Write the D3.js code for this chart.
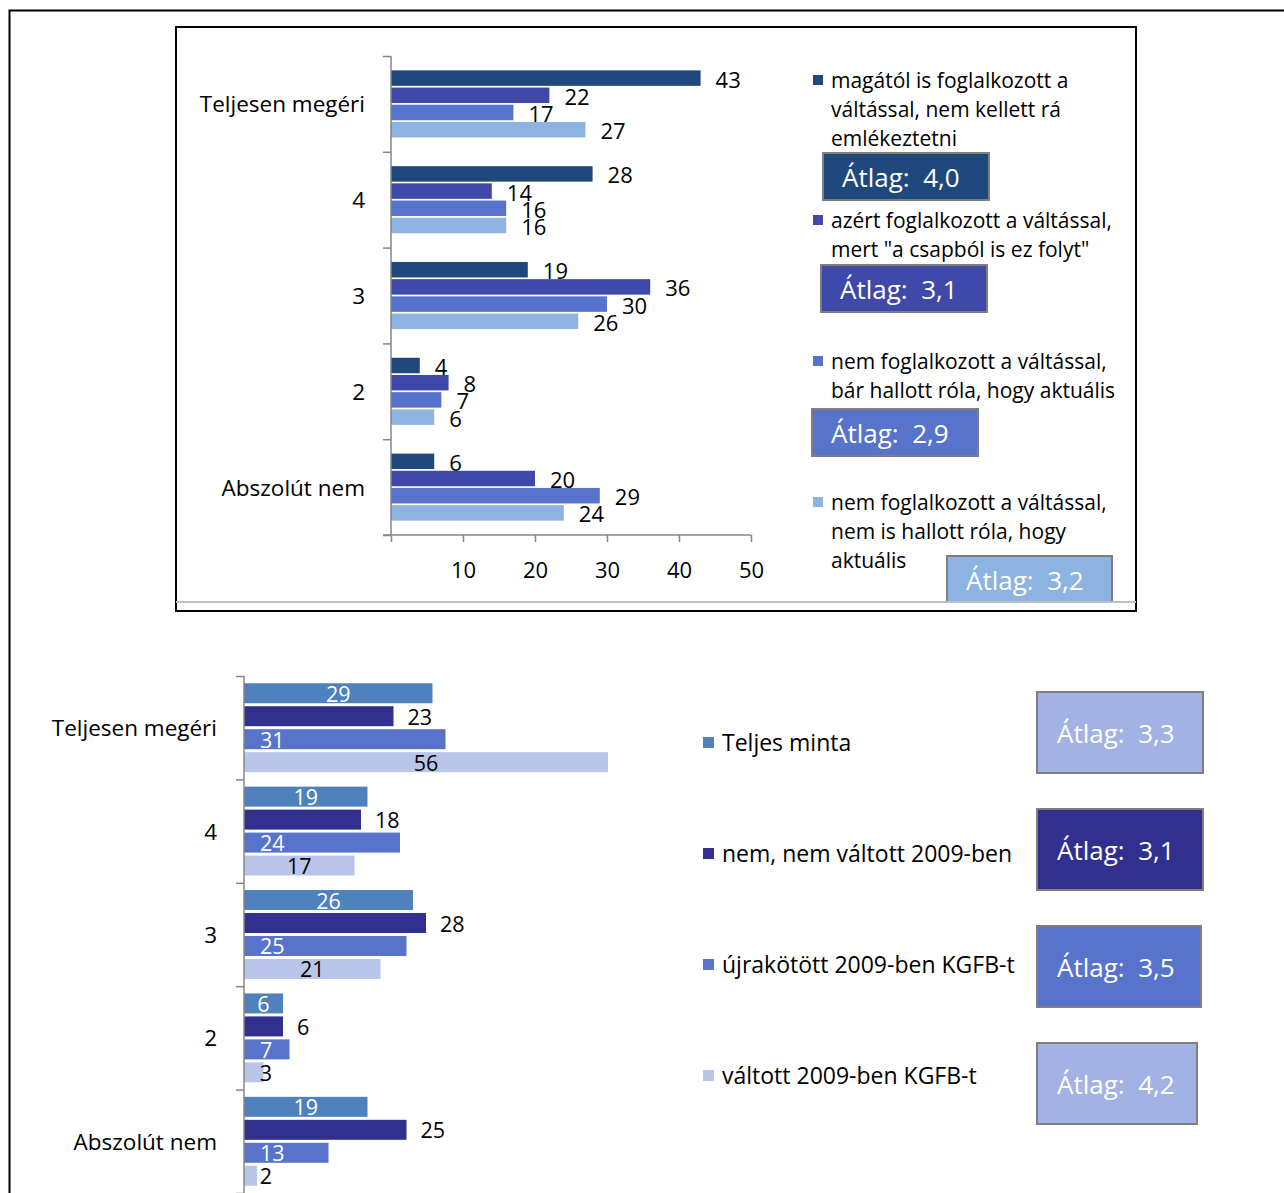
<!DOCTYPE html>
<html><head><meta charset="utf-8">
<script src="https://cdn.jsdelivr.net/npm/d3@7"></script>
<style>body{margin:0;background:#fff}svg{display:block;font-family:"Open Sans","Noto Sans",sans-serif}</style>
</head><body>
<svg id="c" width="1284" height="1193"></svg>
<script>
const categories = ["Teljesen megéri","4","3","2","Abszolút nem"];
const topSeries = ["magától is foglalkozott a váltással, nem kellett rá emlékeztetni","azért foglalkozott a váltással, mert \"a csapból is ez folyt\"","nem foglalkozott a váltással, bár hallott róla, hogy aktuális","nem foglalkozott a váltással, nem is hallott róla, hogy aktuális"];
const topLegendLines = [["magától is foglalkozott a","váltással, nem kellett rá","emlékeztetni"],["azért foglalkozott a váltással,","mert \"a csapból is ez folyt\""],["nem foglalkozott a váltással,","bár hallott róla, hogy aktuális"],["nem foglalkozott a váltással,","nem is hallott róla, hogy","aktuális"]];
const topValues = [[43,28,19,4,6],[22,14,36,8,20],[17,16,30,7,29],[27,16,26,6,24]];
const topMeans = ["4,0","3,1","2,9","3,2"];
const topTicks = [0,10,20,30,40,50];
const bottomSeries = ["Teljes minta","nem, nem váltott 2009-ben","újrakötött 2009-ben KGFB-t","váltott 2009-ben KGFB-t"];
const bottomValues = [[29,19,26,6,19],[23,18,28,6,25],[31,24,25,7,13],[56,17,21,3,2]];
const bottomMeans = ["3,3","3,1","3,5","4,2"];

const topColors = ["#1F497D","#3F49A9","#5773CC","#8DB3E2"];
const topBoxColors = ["#1F497D","#3F49A9","#5773CC","#8DB3E2"];
const botColors = ["#4F81BD","#31308F","#5773CC","#B9C6EA"];
const botBoxColors = ["#A2B2E4","#31308F","#5773CC","#A2B2E4"];
const FONT = "'Open Sans', 'Noto Sans', sans-serif";

const svg = d3.select("#c");
svg.append("rect").attr("x",9.5).attr("y",10.5).attr("width",1300).attr("height",1300).attr("fill","none").attr("stroke","#000").attr("stroke-width",2);
svg.append("rect").attr("x",176).attr("y",27).attr("width",960).attr("height",584).attr("fill","#fff").attr("stroke","#000").attr("stroke-width",2);

// ---------- TOP CHART ----------
const gT = svg.append("g");
const xT = d3.scaleLinear().domain([0,50]).range([391,751]);
const yT = d3.scaleBand().domain(categories).range([56,535]).paddingInner(0.3).paddingOuter(0.15);
const sT = d3.scaleBand().domain(d3.range(4)).range([0,yT.bandwidth()]).padding(0.1).paddingOuter(0);
const idxT = d3.scaleLinear().domain([0,5]).range([56,535]);

topValues.forEach((vals,si)=>{
  const g = gT.append("g");
  g.selectAll("rect").data(vals).join("rect")
    .attr("x",xT(0)).attr("y",(d,i)=>yT(categories[i])+sT(si))
    .attr("width",d=>xT(d)-xT(0)).attr("height",sT.bandwidth())
    .attr("fill",topColors[si]);
  g.selectAll("text").data(vals).join("text")
    .attr("x",d=>xT(d)+15).attr("y",(d,i)=>yT(categories[i])+sT(si)+sT.bandwidth()/2+0.5)
    .attr("dominant-baseline","central").attr("font-size",22).attr("fill","#000").text(d=>d);
});
const yAxT = gT.append("g").attr("transform","translate(391,0)")
  .call(d3.axisLeft(idxT).tickValues(d3.range(6)).tickSize(8).tickFormat(""));
yAxT.selectAll("line,path").attr("stroke","#868686").attr("stroke-width",1.5);
yAxT.select("path").attr("d","M0,56V535");
gT.selectAll(".catT").data(categories).join("text").attr("class","catT")
  .attr("x",365).attr("y",d=>yT(d)+yT.bandwidth()/2).attr("text-anchor","end")
  .attr("dominant-baseline","central").attr("font-size",22.5).text(d=>d);
const xAxT = gT.append("g").attr("transform","translate(0,535)")
  .call(d3.axisBottom(xT).tickValues(topTicks).tickSize(7).tickPadding(20).tickFormat(d=>d===0?"":d));
xAxT.selectAll("line,path").attr("stroke","#868686").attr("stroke-width",1.5);
xAxT.select("path").attr("d","M383,0H751");
xAxT.selectAll("text").attr("font-size",22).attr("fill","#000").attr("font-family",FONT);

const legTop = [{my:80,bx:823,by:153,bw:166},{my:220,bx:821,by:265,bw:166},{my:361,bx:812,by:409,bw:166},{my:502,bx:947,by:556,bw:165}];
legTop.forEach((p,i)=>{
  gT.append("rect").attr("x",813).attr("y",p.my-5).attr("width",10).attr("height",10).attr("fill",topColors[i]);
  const t = gT.append("text").attr("font-size",21).attr("fill","#000");
  topLegendLines[i].forEach((ln,j)=>t.append("tspan").attr("x",831).attr("y",p.my+j*29).attr("dominant-baseline","central").text(ln));
  const bh = i===3 ? 46 : 47;
  gT.append("rect").attr("x",p.bx).attr("y",p.by).attr("width",p.bw).attr("height",bh)
    .attr("fill",topBoxColors[i]).attr("stroke","#7F7F7F").attr("stroke-width",2);
  gT.append("text").attr("x",p.bx+19).attr("y",p.by+24).attr("dominant-baseline","central")
    .attr("font-size",26).attr("fill","#fff").style("white-space","pre").text("Átlag:  "+topMeans[i]);
});
gT.append("line").attr("x1",176).attr("x2",1136).attr("y1",602).attr("y2",602).attr("stroke","#BFBFBF").attr("stroke-width",2);

// ---------- BOTTOM CHART ----------
const gB = svg.append("g");
const xB = d3.scaleLinear().domain([0,56]).range([244,608]);
const yB = d3.scaleBand().domain(categories).range([676,1193]).paddingInner(0.14).paddingOuter(0.07);
const sB = d3.scaleBand().domain(d3.range(4)).range([0,yB.bandwidth()]).padding(0.13).paddingOuter(0);
const idxB = d3.scaleLinear().domain([0,5]).range([676,1193]);

bottomValues.forEach((vals,si)=>{
  const g = gB.append("g");
  g.selectAll("rect").data(vals).join("rect")
    .attr("x",xB(0)).attr("y",(d,i)=>yB(categories[i])+sB(si))
    .attr("width",d=>xB(d)-xB(0)).attr("height",sB.bandwidth())
    .attr("fill",botColors[si]);
  const lx = d => {
    if(si===0) return (xB(0)+xB(d))/2;
    if(si===1) return xB(d)+14;
    if(si===2) return xB(0)+16;
    return Math.max((xB(0)+xB(d))/2, 266);
  };
  g.selectAll("text").data(vals).join("text")
    .attr("x",lx).attr("y",(d,i)=>yB(categories[i])+sB(si)+sB.bandwidth()/2)
    .attr("text-anchor", si===0||si===3 ? "middle" : "start")
    .attr("dominant-baseline","central").attr("font-size",21.5)
    .attr("fill", si===0||si===2 ? "#fff" : "#000").text(d=>d);
});
const yAxB = gB.append("g").attr("transform","translate(244,0)")
  .call(d3.axisLeft(idxB).tickValues(d3.range(6)).tickSize(8).tickFormat(""));
yAxB.selectAll("line,path").attr("stroke","#868686").attr("stroke-width",1.5);
yAxB.select("path").attr("d","M0,676V1193");
gB.selectAll(".catB").data(categories).join("text").attr("class","catB")
  .attr("x",217).attr("y",d=>yB(d)+yB.bandwidth()/2).attr("text-anchor","end")
  .attr("dominant-baseline","central").attr("font-size",22.5).text(d=>d);

const legBot = [{my:742,by:692,bw:166},{my:853,by:809,bw:166},{my:964,by:926,bw:164},{my:1075,by:1043,bw:160}];
legBot.forEach((p,i)=>{
  gB.append("rect").attr("x",703).attr("y",p.my-5).attr("width",11).attr("height",11).attr("fill",botColors[i]);
  gB.append("text").attr("x",722).attr("y",p.my).attr("dominant-baseline","central").attr("font-size",23).text(bottomSeries[i]);
  gB.append("rect").attr("x",1037).attr("y",p.by).attr("width",p.bw).attr("height",81)
    .attr("fill",botBoxColors[i]).attr("stroke","#7F7F7F").attr("stroke-width",2);
  gB.append("text").attr("x",1057).attr("y",p.by+41).attr("dominant-baseline","central")
    .attr("font-size",26).attr("fill","#fff").style("white-space","pre").text("Átlag:  "+bottomMeans[i]);
});
</script>
</body></html>
